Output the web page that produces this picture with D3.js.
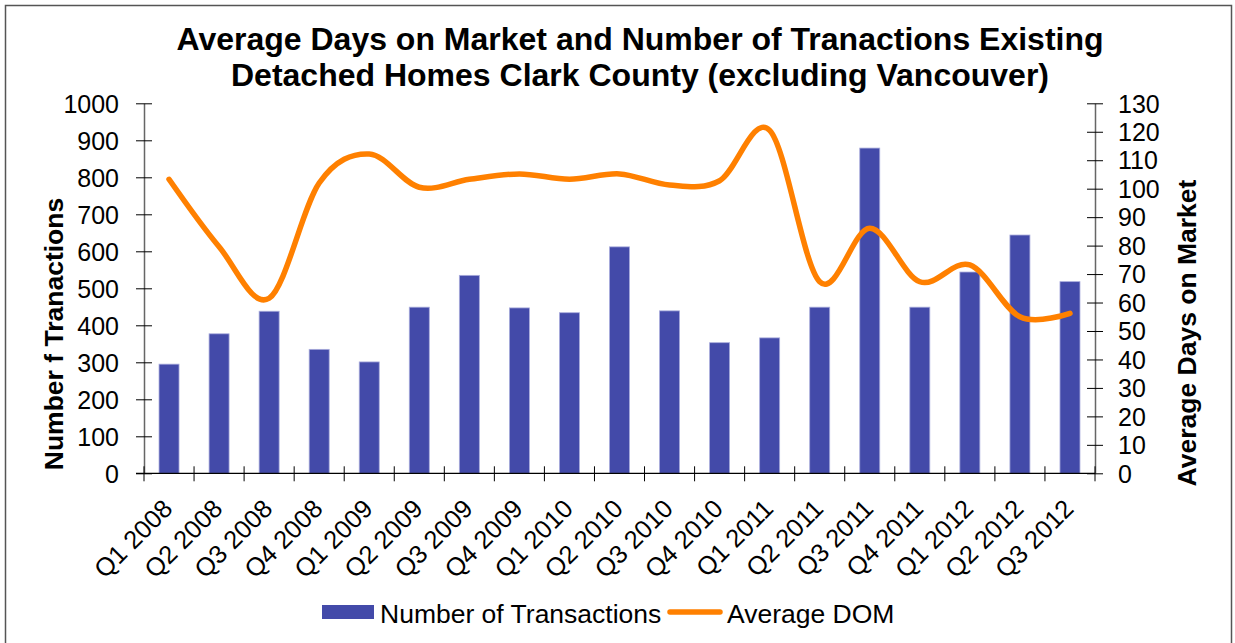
<!DOCTYPE html>
<html>
<head>
<meta charset="utf-8">
<script src="https://cdn.jsdelivr.net/npm/d3@7"></script>
<style>
  body { margin: 0; background: #fff; }
  text { font-family: "Liberation Sans", Arial, sans-serif; fill: #000; }
</style>
</head>
<body>
<div class="chart"></div>
<script>
const quarters = ['Q1 2008','Q2 2008','Q3 2008','Q4 2008','Q1 2009','Q2 2009','Q3 2009','Q4 2009',
  'Q1 2010','Q2 2010','Q3 2010','Q4 2010','Q1 2011','Q2 2011','Q3 2011','Q4 2011',
  'Q1 2012','Q2 2012','Q3 2012']
const transactions = [295,377,438,335,301,449,535,447,434,612,439,353,366,449,879,449,544,644,518]
const avgDom = [103.3,79.6,61.5,102,112.2,100.5,103.3,105.2,103.3,105.2,101.3,102.8,120.5,67.3,86.1,67.3,73.2,55,56.2]
const leftTicks = [0,100,200,300,400,500,600,700,800,900,1000]
const rightTicks = [0,10,20,30,40,50,60,70,80,90,100,110,120,130]

const width = 1235
const height = 643
const plotL = 144, plotR = 1095, plotT = 103.3, plotB = 473.3

const svg = d3.select('.chart').append('svg').attr('width', width).attr('height', height)

// outer frame
svg.append('rect').attr('x', 5.5).attr('y', 5.5).attr('width', 1226).attr('height', 650)
  .attr('fill', 'none').attr('stroke', '#555').attr('stroke-width', 1.5)

const xStep = d3.scaleBand().domain(quarters).range([plotL, plotR])
const yL = d3.scaleLinear().domain([0, 1000]).range([plotB, plotT])
const yR = d3.scaleLinear().domain([0, 130]).range([plotB, plotT])
const cx = q => xStep(q) + xStep.bandwidth() / 2

// bars
svg.append('g').selectAll('rect').data(transactions).join('rect')
  .attr('x', (d, i) => cx(quarters[i]) - 10)
  .attr('width', 20)
  .attr('y', d => yL(d))
  .attr('height', d => plotB - yL(d))
  .attr('fill', '#434aa9')
  .attr('stroke', '#a9acdc').attr('stroke-width', 0.8)

// axes
svg.append('g').attr('transform', `translate(${plotL},0)`)
  .call(d3.axisLeft(yL).tickValues(leftTicks).tickFormat(d3.format('d')).tickSize(0).tickPadding(25))
  .call(g => g.select('.domain').attr('stroke', '#666').attr('stroke-width', 1.5))
  .call(g => g.selectAll('.tick').append('line').attr('x1', -8).attr('x2', 8).attr('stroke', '#000'))
  .call(g => g.selectAll('.tick text').style('font-size', '25px').attr('dy', '0.35em'))

svg.append('g').attr('transform', `translate(${plotR},0)`)
  .call(d3.axisRight(yR).tickValues(rightTicks).tickSize(0).tickPadding(23))
  .call(g => g.select('.domain').attr('stroke', '#666').attr('stroke-width', 1.5))
  .call(g => g.selectAll('.tick').append('line').attr('x1', -8).attr('x2', 8).attr('stroke', '#000'))
  .call(g => g.selectAll('.tick text').style('font-size', '25px').attr('dy', '0.35em'))

// x axis: boundary ticks
const bounds = quarters.map(q => xStep(q)).concat([plotR])
const xg = svg.append('g')
xg.append('line').attr('x1', plotL - 8).attr('x2', plotR).attr('y1', plotB).attr('y2', plotB)
  .attr('stroke', '#000').attr('stroke-width', 1.2)
xg.selectAll('line.t').data(bounds).join('line').attr('class', 't')
  .attr('x1', d => d).attr('x2', d => d).attr('y1', plotB - 7).attr('y2', plotB + 8)
  .attr('stroke', '#000')
xg.selectAll('text').data(quarters).join('text')
  .attr('transform', d => `translate(${cx(d) + 5},${plotB + 37}) rotate(-45)`)
  .attr('text-anchor', 'end')
  .style('font-size', '25.5px')
  .text(d => d)

// line
const line = d3.line()
  .x((d, i) => cx(quarters[i]))
  .y(d => yR(d))
  .curve(d3.curveCardinal.tension(0))
svg.append('path').datum(avgDom).attr('d', line)
  .attr('fill', 'none').attr('stroke', '#ff8000').attr('stroke-width', 5.5).attr('stroke-linecap', 'round')

// title
const title = svg.append('text').attr('text-anchor', 'middle').style('font-size', '32px').style('font-weight', 'bold')
title.append('tspan').attr('x', 640).attr('y', 50).text('Average Days on Market and Number of Tranactions Existing')
title.append('tspan').attr('x', 640).attr('y', 86).text('Detached Homes Clark County (excluding Vancouver)')

// axis titles
svg.append('text').attr('transform', `translate(63,334) rotate(-90)`).attr('text-anchor', 'middle')
  .style('font-size', '26.5px').style('font-weight', 'bold').text('Number f Tranactions')
svg.append('text').attr('transform', `translate(1196,333) rotate(-90)`).attr('text-anchor', 'middle')
  .style('font-size', '26.5px').style('font-weight', 'bold').text('Average Days on Market')

// legend
const lg = svg.append('g')
lg.append('rect').attr('x', 322).attr('y', 605).attr('width', 52).attr('height', 14).attr('fill', '#434aa9')
lg.append('text').attr('x', 380).attr('y', 623).style('font-size', '26.5px').text('Number of Transactions')
lg.append('line').attr('x1', 670).attr('x2', 720).attr('y1', 612).attr('y2', 612)
  .attr('stroke', '#ff8000').attr('stroke-width', 5.5).attr('stroke-linecap', 'round')
lg.append('text').attr('x', 727).attr('y', 623).style('font-size', '26.5px').text('Average DOM')
</script>
</body>
</html>
